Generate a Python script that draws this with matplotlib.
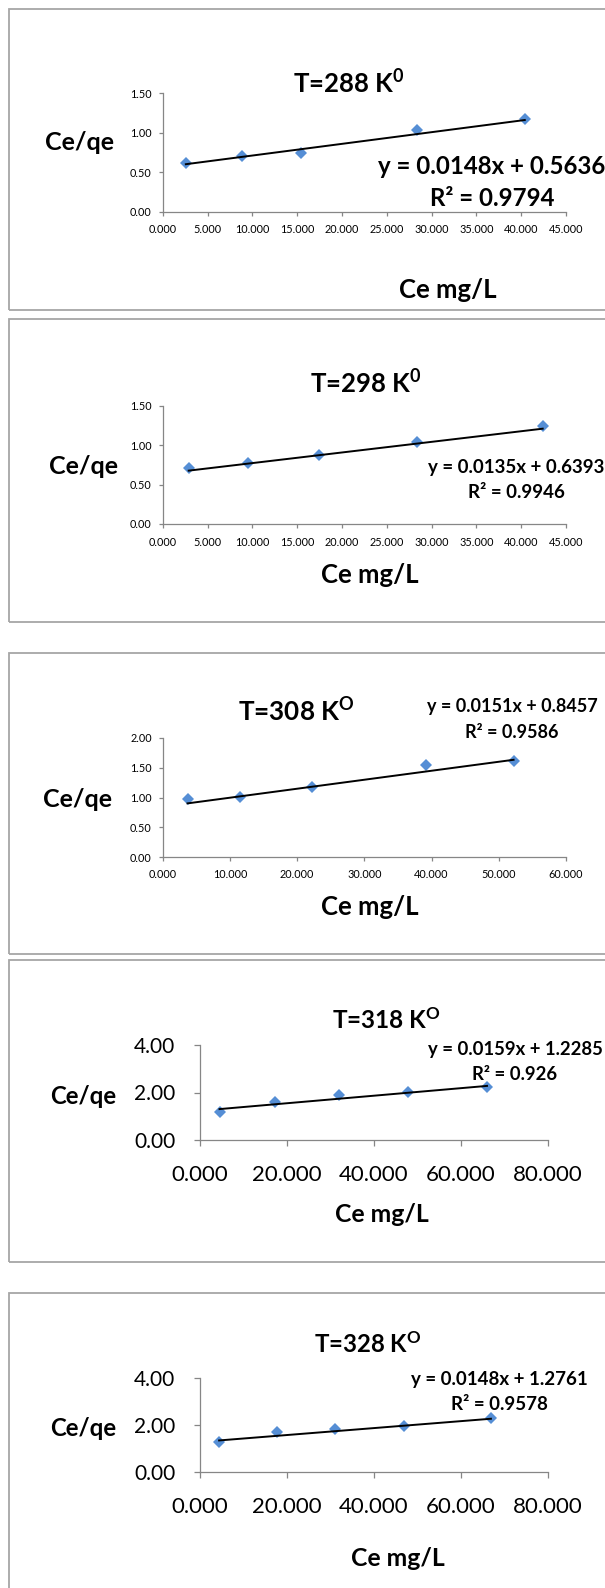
import matplotlib
matplotlib.use('Agg')
import matplotlib.pyplot as plt
import numpy as np
from matplotlib.patches import Rectangle

plt.rcParams['font.family'] = ['Lato', 'DejaVu Sans']
plt.rcParams['mathtext.fontset'] = 'custom'
plt.rcParams['mathtext.rm'] = 'Lato:bold'
plt.rcParams['mathtext.it'] = 'Lato:bold'
plt.rcParams['mathtext.bf'] = 'Lato:bold'

# data
ce_288 = [2.57, 8.83, 15.37, 28.4, 40.4]
ratio_288 = [0.613, 0.70, 0.74, 1.03, 1.17]
ce_298 = [2.89, 9.53, 17.4, 28.4, 42.4]
ratio_298 = [0.715, 0.77, 0.875, 1.04, 1.24]
ce_308 = [3.68, 11.5, 22.2, 39.2, 52.2]
ratio_308 = [0.98, 1.01, 1.18, 1.54, 1.62]
ce_318 = [4.6, 17.4, 32.1, 47.9, 66.0]
ratio_318 = [1.19, 1.61, 1.89, 2.02, 2.22]
ce_328 = [4.5, 17.7, 31.1, 47.0, 66.9]
ratio_328 = [1.26, 1.69, 1.82, 1.96, 2.29]

titles = ['T=288 K$^{0}$', 'T=298 K$^{0}$', r'T=308 K$^{\mathrm{O}}$',
          r'T=318 K$^{\mathrm{O}}$', r'T=328 K$^{\mathrm{O}}$']
slopes = [0.0148, 0.0135, 0.0151, 0.0159, 0.0148]
intercepts = [0.5636, 0.6393, 0.8457, 1.2285, 1.2761]
r2_text = ['0.9794', '0.9946', '0.9586', '0.926', '0.9578']
eq_text = ['y = 0.0148x + 0.5636', 'y = 0.0135x + 0.6393', 'y = 0.0151x + 0.8457',
           'y = 0.0159x + 1.2285', 'y = 0.0148x + 1.2761']
x_ticks = [np.arange(0, 46, 5), np.arange(0, 46, 5), np.arange(0, 61, 10),
           np.arange(0, 81, 20), np.arange(0, 81, 20)]
y_ticks = [np.arange(0, 1.51, 0.5), np.arange(0, 1.51, 0.5), np.arange(0, 2.01, 0.5),
           np.arange(0, 4.01, 2), np.arange(0, 4.01, 2)]

xs = [ce_288, ce_298, ce_308, ce_318, ce_328]
ys = [ratio_288, ratio_298, ratio_308, ratio_318, ratio_328]

W, H = 605, 1588
fig = plt.figure(figsize=(W / 100, H / 100), dpi=100)


def fx(p):
    return p / W


def fy(p):
    return 1 - p / H


# pixel layout of each panel
layout = [
    dict(ax=(162.8, 93.3, 566, 211.7), box=(9, 8.5, 310), title=(349, 83, 18.5),
         ylab=(80, 143, 18), xlab=(448, 290, 18.5), eq=(492, 167, 199, 17.3),
         tick=(7.8, 7.8, 3, 6, 5)),
    dict(ax=(162.8, 406, 566, 524), box=(9, 319, 622), title=(366, 383, 18.5),
         ylab=(83, 467, 18), xlab=(370, 575, 18.5), eq=(516, 468, 493, 13.5),
         tick=(7.8, 7.8, 3, 6, 5)),
    dict(ax=(162.8, 738, 566, 857), box=(9, 652.5, 954), title=(296, 711, 18.8),
         ylab=(77.5, 799, 18), xlab=(370, 907, 18.5), eq=(512, 706, 732, 13),
         tick=(7.8, 7.8, 3, 6, 5)),
    dict(ax=(199.5, 1045, 548, 1140), box=(9, 960, 1262), title=(386, 1020, 17.5),
         ylab=(83, 1096, 17.3), xlab=(382, 1215, 17.8), eq=(515, 1049, 1075, 13.3),
         tick=(16, 15, 4.5, 13.5, 13)),
    dict(ax=(199.5, 1378, 548, 1472), box=(9, 1293, 1700), title=(368, 1344, 17.3),
         ylab=(83, 1428, 17.3), xlab=(398, 1559, 17.8), eq=(499, 1380, 1405, 13.5),
         tick=(16, 15, 4.5, 13.5, 13)),
]

for i, lay in enumerate(layout):
    l, t, r, b = lay['ax']
    ax = fig.add_axes([fx(l), fy(b), fx(r - l), (b - t) / H])

    bx, bt, bb = lay['box']
    fig.patches.append(Rectangle((fx(bx), fy(bb)), fx(700 - bx), (bb - bt) / H,
                                 transform=fig.transFigure, fill=False,
                                 edgecolor='#a6a6a6', linewidth=1.3))

    x = np.array(xs[i])
    ax.plot(x, ys[i], linestyle='none', marker='D', markersize=6.6,
            color='#558ED5', markeredgewidth=0, zorder=3)
    xl = np.array([x.min(), x.max()])
    ax.plot(xl, slopes[i] * xl + intercepts[i], color='black', linewidth=1.4, zorder=4)

    ax.set_xlim(x_ticks[i][0], x_ticks[i][-1])
    ax.set_ylim(y_ticks[i][0], y_ticks[i][-1])
    ax.set_xticks(x_ticks[i])
    ax.set_yticks(y_ticks[i])
    ax.set_xticklabels(['%.3f' % v for v in x_ticks[i]])
    ax.set_yticklabels(['%.2f' % v for v in y_ticks[i]])

    xfs, yfs, tlen, xpad, ypad = lay['tick']
    ax.tick_params(axis='x', labelsize=xfs, length=tlen, width=0.9, color='#868686',
                   pad=xpad, labelcolor='black')
    ax.tick_params(axis='y', labelsize=yfs, length=tlen, width=0.9, color='#868686',
                   pad=ypad, labelcolor='black')
    for s in ['top', 'right']:
        ax.spines[s].set_visible(False)
    for s in ['left', 'bottom']:
        ax.spines[s].set_color('#868686')
        ax.spines[s].set_linewidth(0.9)
    ax.patch.set_alpha(0)

    tx, ty, tfs = lay['title']
    fig.text(fx(tx), fy(ty), titles[i], ha='center', va='center', fontsize=tfs,
             fontweight='bold')
    yx, yy, yfs2 = lay['ylab']
    fig.text(fx(yx), fy(yy), 'Ce/qe', ha='center', va='center', fontsize=yfs2,
             fontweight='bold')
    lx, ly, lfs = lay['xlab']
    fig.text(fx(lx), fy(ly), 'Ce mg/L', ha='center', va='center', fontsize=lfs,
             fontweight='bold')
    ex, ey1, ey2, efs = lay['eq']
    fig.text(fx(ex), fy(ey1), eq_text[i], ha='center', va='center', fontsize=efs,
             fontweight='bold')
    fig.text(fx(ex), fy(ey2), 'R² = ' + r2_text[i], ha='center', va='center',
             fontsize=efs, fontweight='bold')

fig.savefig('out.png', dpi=100)
